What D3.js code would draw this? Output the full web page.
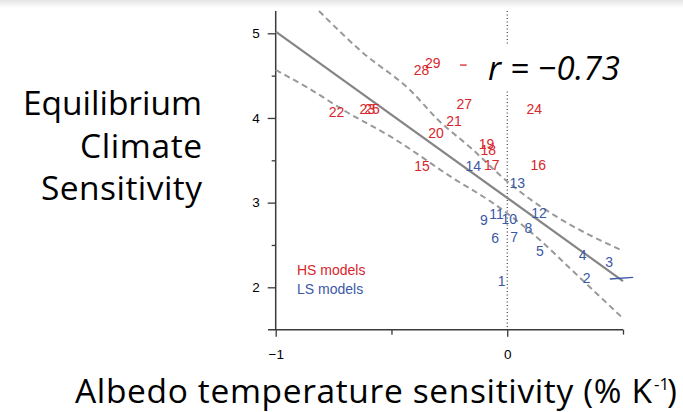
<!DOCTYPE html>
<html>
<head>
<meta charset="utf-8">
<script src="https://cdn.jsdelivr.net/npm/d3@7"></script>
<style>
  body { margin: 0; background: #fff; }
  svg { display: block; }
</style>
</head>
<body>
<div id="graph"></div>
<script>
// model labels, albedo sensitivity (x) and ECS (y)
var hsModels = ["15", "16", "17", "18", "19", "20", "21", "22", "23", "24", "25", "27", "28", "29"];
var hsX = [-0.368, 0.134, -0.067, -0.082, -0.089, -0.308, -0.230, -0.737, -0.604, 0.117, -0.584, -0.186, -0.370, -0.322];
var hsY = [3.436, 3.441, 3.441, 3.622, 3.692, 3.819, 3.964, 4.067, 4.102, 4.102, 4.102, 4.161, 4.566, 4.653];

var lsModels = ["1", "2", "3", "4", "5", "6", "7", "8", "9", "10", "11", "12", "13", "14"];
var lsX = [-0.024, 0.343, 0.440, 0.326, 0.141, -0.052, 0.030, 0.091, -0.101, 0.009, -0.046, 0.137, 0.043, -0.147];
var lsY = [2.078, 2.106, 2.299, 2.378, 2.429, 2.586, 2.598, 2.704, 2.795, 2.803, 2.866, 2.881, 3.235, 3.433];

// regression line and its confidence band
var fitX = [-1, 0.5];
var fitY = [5.02, 2.074];
var upperX = [-0.813, -0.629, -0.420, -0.298, -0.147, -0.032, 0.084, 0.213, 0.498];
var upperY = [5.263, 4.783, 4.330, 3.976, 3.622, 3.326, 3.070, 2.834, 2.432];
var lowerX = [-1, -0.845, -0.708, -0.492, -0.233, -0.060, 0.141, 0.271, 0.495];
var lowerY = [4.567, 4.330, 4.094, 3.760, 3.287, 2.992, 2.559, 2.224, 1.646];

// stray marks left on the slide
var redMarkX = [-0.204, -0.175], redMarkY = [4.625, 4.625];
var blueMarkX = [0.443, 0.544], blueMarkY = [2.098, 2.118];

var xMajor = [-1, 0], xMinor = [-0.5, 0.5];
var yMajor = [2, 3, 4, 5], yMinor = [2.5, 3.5, 4.5];

var red = "#d8262b", blue = "#3b58a6";

var svgWidth = 683, svgHeight = 412;
var svg = d3.select("#graph").append("svg")
    .attr("width", svgWidth)
    .attr("height", svgHeight);

// faint shadow along the top edge of the screenshot
var grad = svg.append("defs").append("linearGradient")
    .attr("id", "topShade").attr("x1", 0).attr("x2", 0).attr("y1", 0).attr("y2", 1);
grad.append("stop").attr("offset", "0%").attr("stop-color", "#e4e4e4");
grad.append("stop").attr("offset", "100%").attr("stop-color", "#fff");
svg.append("rect").attr("width", svgWidth).attr("height", 8).attr("fill", "url(#topShade)");

var x = d3.scaleLinear().domain([-1, 0.5]).range([275.7, 623]);
var y = d3.scaleLinear().domain([2, 5]).range([287.3, 33.3]);
var xLo = -1.033, yLo = 1.5, yHi = 5.263;

var axisColor = "#3a3a3a";

// y axis
svg.append("line")
    .attr("x1", x(-1)).attr("x2", x(-1))
    .attr("y1", y(yHi)).attr("y2", y(yLo))
    .attr("stroke", axisColor).attr("stroke-width", 1.5);

var yAxis = svg.append("g")
    .attr("transform", "translate(" + x(-1) + ",0)")
    .call(d3.axisLeft(y).tickValues(yMajor).tickSize(8).tickPadding(8).tickFormat(d3.format("d")));
yAxis.select(".domain").remove();

var yAxisMinor = svg.append("g")
    .attr("transform", "translate(" + x(-1) + ",0)")
    .call(d3.axisLeft(y).tickValues(yMinor).tickSize(4).tickFormat(""));
yAxisMinor.select(".domain").remove();

// x axis
svg.append("line")
    .attr("x1", x(xLo)).attr("x2", x(0.5))
    .attr("y1", y(yLo)).attr("y2", y(yLo))
    .attr("stroke", axisColor).attr("stroke-width", 1.5);

var xAxis = svg.append("g")
    .attr("transform", "translate(0," + y(yLo) + ")")
    .call(d3.axisBottom(x).tickValues(xMajor).tickSize(7).tickPadding(13).tickFormat(d3.format("d")));
xAxis.select(".domain").remove();

var xAxisMinor = svg.append("g")
    .attr("transform", "translate(0," + y(yLo) + ")")
    .call(d3.axisBottom(x).tickValues(xMinor).tickSize(5).tickFormat(""));
xAxisMinor.select(".domain").remove();

svg.selectAll(".tick line").attr("stroke", axisColor).attr("stroke-width", 1.3);
svg.selectAll(".tick text")
    .attr("font-family", "Liberation Sans, Arial, sans-serif")
    .attr("font-size", 13.5)
    .attr("fill", "#000");

// dotted zero line
svg.append("line")
    .attr("x1", x(0)).attr("x2", x(0))
    .attr("y1", y(yHi)).attr("y2", y(yLo))
    .attr("stroke", "#111").attr("stroke-width", 1)
    .attr("stroke-dasharray", "1,2.5");

var line = d3.line()
    .x(function(d) { return x(d[0]); })
    .y(function(d) { return y(d[1]); });

svg.append("path")
    .datum(d3.zip(fitX, fitY))
    .attr("fill", "none")
    .attr("stroke", "#858585")
    .attr("stroke-width", 2.2)
    .attr("d", line);

var bandLine = d3.line()
    .x(function(d) { return x(d[0]); })
    .y(function(d) { return y(d[1]); })
    .curve(d3.curveMonotoneX);

[d3.zip(upperX, upperY), d3.zip(lowerX, lowerY)].forEach(function(band) {
  svg.append("path")
      .datum(band)
      .attr("fill", "none")
      .attr("stroke", "#999")
      .attr("stroke-width", 2)
      .attr("stroke-dasharray", "6,4")
      .attr("d", bandLine);
});

// model numbers
function drawLabels(names, xs, ys, color) {
  svg.append("g")
    .selectAll("text")
    .data(names)
    .enter().append("text")
      .attr("x", function(d, i) { return x(xs[i]); })
      .attr("y", function(d, i) { return y(ys[i]); })
      .attr("dy", "0.36em")
      .attr("text-anchor", "middle")
      .attr("font-family", "Liberation Sans, Arial, sans-serif")
      .attr("font-size", 14)
      .attr("fill", color)
      .text(function(d) { return d; });
}
drawLabels(hsModels, hsX, hsY, red);
drawLabels(lsModels, lsX, lsY, blue);

svg.append("path").datum(d3.zip(redMarkX, redMarkY))
    .attr("fill", "none").attr("stroke", red).attr("stroke-width", 1.3).attr("d", line);
svg.append("path").datum(d3.zip(blueMarkX, blueMarkY))
    .attr("fill", "none").attr("stroke", blue).attr("stroke-width", 1.3).attr("d", line);

// legend
svg.append("text")
    .attr("x", 297).attr("y", 275)
    .attr("font-family", "Liberation Sans, Arial, sans-serif").attr("font-size", 14)
    .attr("fill", red).text("HS models");
svg.append("text")
    .attr("x", 297).attr("y", 294)
    .attr("font-family", "Liberation Sans, Arial, sans-serif").attr("font-size", 14)
    .attr("fill", blue).text("LS models");

// correlation box sits over the zero line
svg.append("rect")
    .attr("x", 478).attr("y", 45).attr("width", 150).attr("height", 44)
    .attr("fill", "#fff");
svg.append("text")
    .attr("x", 488).attr("y", 80)
    .attr("font-family", "Open Sans, Noto Sans, sans-serif")
    .attr("font-size", 33)
    .attr("font-style", "italic")
    .attr("fill", "#000")
    .attr("textLength", 132)
    .attr("lengthAdjust", "spacing")
    .text("r = \u22120.73");

// axis titles
var titleFont = "Open Sans, Noto Sans, sans-serif";
var titleSize = 33.5;
var yTitle = ["Equilibrium", "Climate", "Sensitivity"];
var yTitleWidth = [179, 122, 161];
svg.append("g").selectAll("text")
    .data(yTitle)
    .enter().append("text")
      .attr("x", function(d, i) { return 202 - yTitleWidth[i]; })
      .attr("y", function(d, i) { return 115 + i * 42.5; })
      .attr("textLength", function(d, i) { return yTitleWidth[i]; })
      .attr("lengthAdjust", "spacing")
      .attr("font-family", titleFont)
      .attr("font-size", titleSize)
      .attr("fill", "#000")
      .text(function(d) { return d; });

svg.append("text")
    .attr("x", 75).attr("y", 403)
    .attr("textLength", 577)
    .attr("lengthAdjust", "spacing")
    .attr("font-family", titleFont)
    .attr("font-size", titleSize)
    .attr("fill", "#000")
    .text("Albedo temperature sensitivity (% K");
svg.append("text")
    .attr("x", 654).attr("y", 390)
    .attr("font-family", titleFont)
    .attr("font-size", 17)
    .attr("fill", "#000")
    .text("-1");
svg.append("text")
    .attr("x", 667).attr("y", 403)
    .attr("font-family", titleFont)
    .attr("font-size", titleSize)
    .attr("fill", "#000")
    .text(")");
</script>
</body>
</html>
